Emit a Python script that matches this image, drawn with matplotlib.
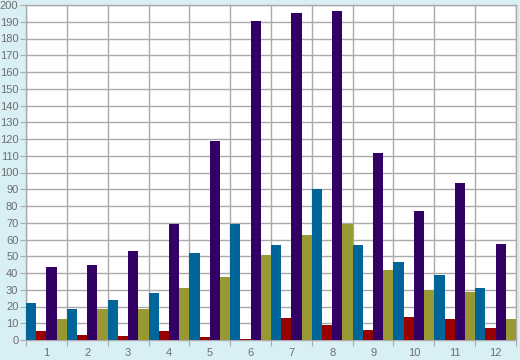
import matplotlib
matplotlib.use('Agg')
import matplotlib.pyplot as plt
import numpy as np

plt.rcParams['font.family'] = ['Liberation Sans', 'DejaVu Sans']

# data
categorias = ['1', '2', '3', '4', '5', '6', '7', '8', '9', '10', '11', '12']
serie_azul = [22, 18.5, 24, 28, 52, 69, 56.5, 90, 56.5, 46.5, 39, 31]
serie_roja = [5.5, 3, 2.5, 5.5, 2, 0.6, 13, 9, 6, 13.5, 12.5, 7]
serie_morada = [43.5, 45, 53, 69, 119, 190.5, 195, 196.5, 111.5, 77, 94, 57.5]
serie_oliva = [12.5, 18.5, 18.5, 31, 37.5, 50.5, 62.5, 69, 42, 30, 28.5, 12.5]

colores = ['#006699', '#990000', '#330066', '#999933']
fondo = '#d9eff6'
gris = '#aaaaaa'
texto = '#6e6e6e'

fig = plt.figure(figsize=(5.2, 3.6), dpi=100, facecolor=fondo)
ax = fig.add_axes([26 / 520, 20 / 360, 490 / 520, 335 / 360])
ax.set_facecolor('white')

x = np.arange(1, len(categorias) + 1)
ancho = 0.25
series = [serie_azul, serie_roja, serie_morada, serie_oliva]
for k, (valores, color) in enumerate(zip(series, colores)):
    ax.bar(x - 0.375 + k * ancho, valores, ancho, color=color, linewidth=0, zorder=3)

ax.set_xlim(0.5, len(categorias) + 0.5)
ax.set_ylim(0, 200)

# gridlines on the band boundaries, labels in the middle
ax.set_xticks(np.arange(0.5, len(categorias) + 1, 1))
ax.set_xticklabels([])
ax.set_xticks(x, minor=True)
ax.set_xticklabels(categorias, minor=True)
ax.set_yticks(np.arange(0, 201, 10))

ax.tick_params(axis='x', which='major', length=4, width=0.8, color=gris)
ax.tick_params(axis='x', which='minor', length=0, pad=6, labelsize=8, labelcolor=texto)
ax.tick_params(axis='y', length=4, width=0.8, color=gris, pad=1.5, labelsize=8, labelcolor=texto)

ax.grid(True, which='major', color=gris, linewidth=1, zorder=0)
ax.set_axisbelow(True)
for lado in ax.spines.values():
    lado.set_color(gris)
    lado.set_linewidth(1)

plt.savefig('out.png', dpi=100, facecolor=fondo)
plt.close()
